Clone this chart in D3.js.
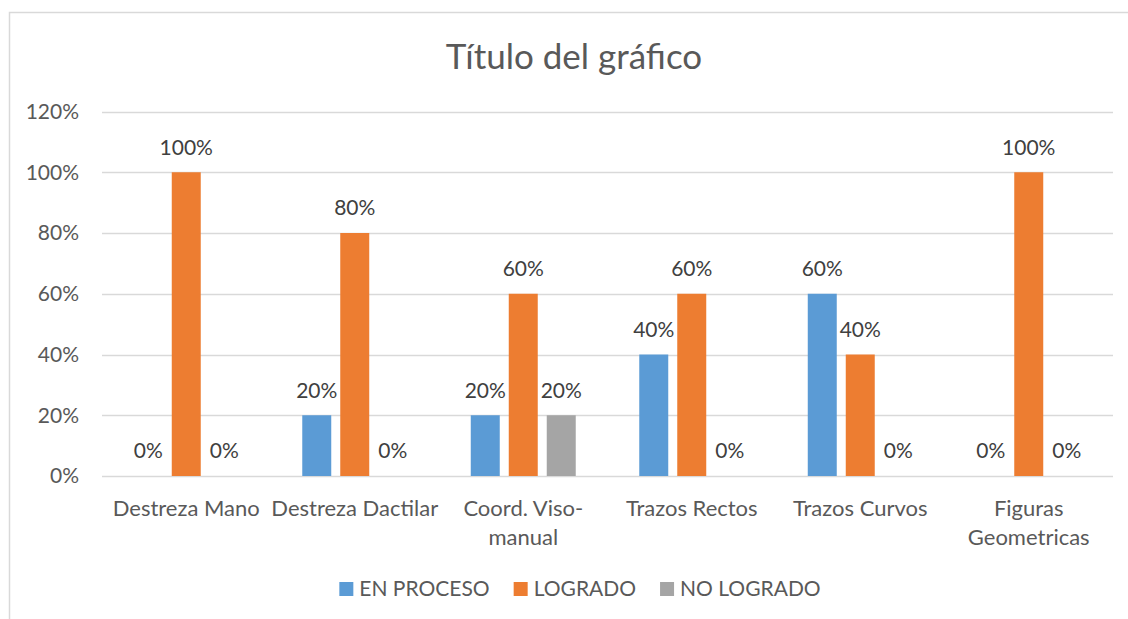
<!DOCTYPE html>
<html>
<head>
<meta charset="utf-8">
<script src="https://cdn.jsdelivr.net/npm/d3@7"></script>
<style>
  body { margin: 0; background: #fff; }
  text { font-family: Lato, "Open Sans", sans-serif; }
</style>
</head>
<body>
<div id="chart"></div>
<script>
// chart data
const categories = ["Destreza Mano", "Destreza Dactilar", "Coord. Viso-manual", "Trazos Rectos", "Trazos Curvos", "Figuras Geometricas"];
const seriesNames = ["EN PROCESO", "LOGRADO", "NO LOGRADO"];
const enProceso = [0, 0.2, 0.2, 0.4, 0.6, 0];
const logrado = [1, 0.8, 0.6, 0.6, 0.4, 1];
const noLogrado = [0, 0, 0.2, 0, 0, 0];
const yTicks = [0, 0.2, 0.4, 0.6, 0.8, 1.0, 1.2];
const colors = ["#5B9BD5", "#ED7D31", "#A5A5A5"];
const title = "Título del gráfico";

const width = 1128, height = 619;
const svg = d3.select("#chart").append("svg")
  .attr("width", width)
  .attr("height", height);

// outer frame (runs off the right and bottom edge)
svg.append("rect")
  .attr("x", 9.5).attr("y", 12.5)
  .attr("width", 1200).attr("height", 700)
  .attr("fill", "#fff")
  .attr("stroke", "#D9D9D9")
  .attr("stroke-width", 1.5);

svg.append("text")
  .attr("x", 574).attr("y", 57)
  .attr("text-anchor", "middle")
  .attr("dy", "0.35em")
  .attr("font-size", 35)
  .attr("fill", "#595959")
  .text(title);

const x0 = d3.scaleBand()
  .domain(categories)
  .range([102, 1113]);

const x1 = d3.scaleBand()
  .domain(seriesNames)
  .range([0, x0.bandwidth()])
  .paddingInner(0.237)
  .paddingOuter(0.836);

const y = d3.scaleLinear()
  .domain([0, 1.2])
  .range([476, 111.5]);

const pct = d3.format(".0%");

// gridlines
svg.append("g")
  .selectAll("line")
  .data(yTicks)
  .join("line")
  .attr("x1", 102).attr("x2", 1113)
  .attr("y1", d => Math.round(y(d)) + 0.5)
  .attr("y2", d => Math.round(y(d)) + 0.5)
  .attr("stroke", "#D9D9D9")
  .attr("stroke-width", 1.3);

// y axis labels
svg.append("g")
  .selectAll("text")
  .data(yTicks)
  .join("text")
  .attr("x", 79)
  .attr("y", d => y(d))
  .attr("dy", "0.35em")
  .attr("text-anchor", "end")
  .attr("font-size", 21)
  .attr("fill", "#595959")
  .text(d => pct(d));

const seriesValues = [enProceso, logrado, noLogrado];
const rows = [];
categories.forEach((c, i) => {
  seriesNames.forEach((s, j) => {
    rows.push({ cat: c, series: s, value: seriesValues[j][i], color: colors[j] });
  });
});

svg.append("g")
  .selectAll("rect")
  .data(rows)
  .join("rect")
  .attr("x", d => x0(d.cat) + x1(d.series))
  .attr("width", x1.bandwidth())
  .attr("y", d => y(d.value))
  .attr("height", d => y(0) - y(d.value))
  .attr("fill", d => d.color);

// data labels
svg.append("g")
  .selectAll("text")
  .data(rows)
  .join("text")
  .attr("x", d => x0(d.cat) + x1(d.series) + x1.bandwidth() / 2)
  .attr("y", d => y(d.value) - 25)
  .attr("dy", "0.35em")
  .attr("text-anchor", "middle")
  .attr("font-size", 21)
  .attr("fill", "#404040")
  .text(d => pct(d.value));

// category labels, wrapped to the band width
const catG = svg.append("g");
categories.forEach(c => {
  const t = catG.append("text")
    .attr("x", x0(c) + x0.bandwidth() / 2)
    .attr("y", 508)
    .attr("text-anchor", "middle")
    .attr("font-size", 22)
    .attr("fill", "#595959");
  const words = c.split(/(?<=-)|\s+/);
  let lines = [];
  let line = "";
  words.forEach(w => {
    const test = line === "" ? w : (line.endsWith("-") ? line + w : line + " " + w);
    t.text(test);
    if (t.node().getComputedTextLength() > x0.bandwidth() + 8 && line !== "") {
      lines.push(line);
      line = w;
    } else {
      line = test;
    }
  });
  lines.push(line);
  t.text(null);
  lines.forEach((l, k) => {
    t.append("tspan")
      .attr("x", x0(c) + x0.bandwidth() / 2)
      .attr("dy", k === 0 ? "0.35em" : 29)
      .text(l);
  });
});

// legend
const legend = svg.append("g");
let lx = 0;
seriesNames.forEach((s, j) => {
  const g = legend.append("g");
  g.append("rect")
    .attr("x", lx).attr("y", -7)
    .attr("width", 14).attr("height", 14)
    .attr("fill", colors[j]);
  const t = g.append("text")
    .attr("x", lx + 20)
    .attr("y", 0)
    .attr("dy", "0.35em")
    .attr("font-size", 21)
    .attr("fill", "#595959")
    .text(s);
  lx += 20 + t.node().getComputedTextLength() + 24;
});
const legendWidth = lx - 24;
legend.attr("transform", "translate(" + (580 - legendWidth / 2) + ",589)");
</script>
</body>
</html>
